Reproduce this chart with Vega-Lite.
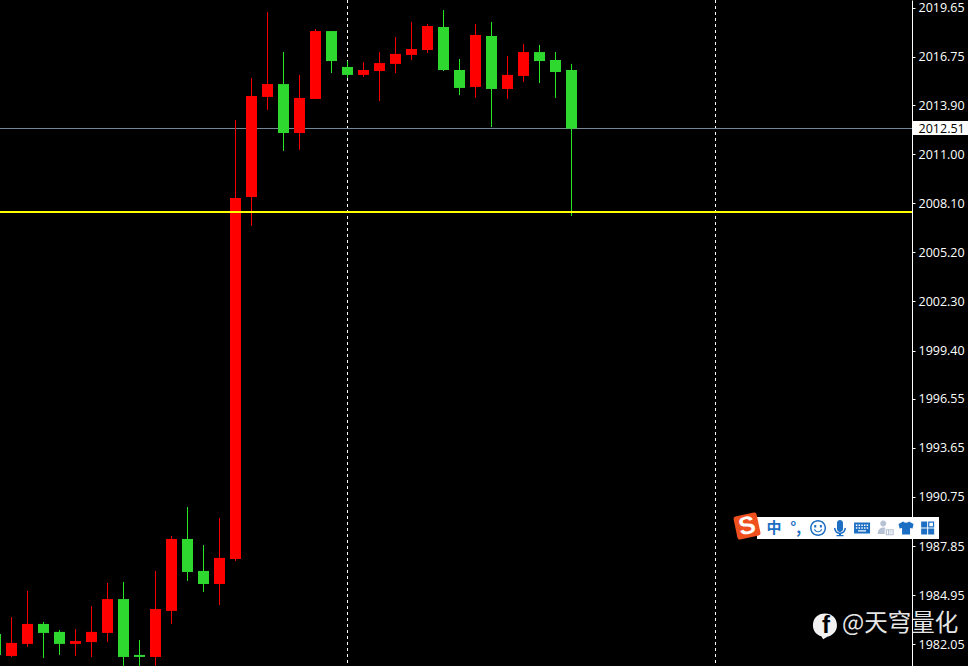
{"$schema":"https://vega.github.io/schema/vega-lite/v6.json","width":912,"height":666,"autosize":{"type":"none"},"padding":{"left":0,"top":0,"right":56,"bottom":0},"background":"#000000","view":{"stroke":null,"fill":"#000000"},"config":{"axis":{"grid":false}},
"resolve":{"scale":{"color":"independent"}},
"datasets":{"candles":[
{"t":-1,"open":1982.66,"high":1982.89,"low":1981.24,"close":1981.42,"dir":"down"},
{"t":0,"open":1981.36,"high":1983.66,"low":1981.30,"close":1982.13,"dir":"up"},
{"t":1,"open":1982.07,"high":1985.20,"low":1981.89,"close":1983.25,"dir":"up"},
{"t":2,"open":1983.25,"high":1983.37,"low":1981.24,"close":1982.72,"dir":"down"},
{"t":3,"open":1982.78,"high":1982.89,"low":1981.42,"close":1982.07,"dir":"down"},
{"t":4,"open":1982.07,"high":1982.95,"low":1981.36,"close":1982.24,"dir":"up"},
{"t":5,"open":1982.18,"high":1984.31,"low":1981.30,"close":1982.78,"dir":"up"},
{"t":6,"open":1982.72,"high":1985.67,"low":1982.18,"close":1984.72,"dir":"up"},
{"t":7,"open":1984.72,"high":1985.73,"low":1980.77,"close":1981.30,"dir":"down"},
{"t":8,"open":1981.42,"high":1982.30,"low":1980.77,"close":1981.30,"dir":"down"},
{"t":9,"open":1981.30,"high":1986.38,"low":1980.77,"close":1984.13,"dir":"up"},
{"t":10,"open":1984.02,"high":1988.45,"low":1983.25,"close":1988.27,"dir":"up"},
{"t":11,"open":1988.27,"high":1990.16,"low":1985.79,"close":1986.32,"dir":"down"},
{"t":12,"open":1986.38,"high":1987.91,"low":1985.14,"close":1985.61,"dir":"down"},
{"t":13,"open":1985.61,"high":1989.51,"low":1984.37,"close":1987.15,"dir":"up"},
{"t":14,"open":1987.09,"high":2013.02,"low":1986.97,"close":2008.41,"dir":"up"},
{"t":15,"open":2008.47,"high":2015.50,"low":2006.76,"close":2014.44,"dir":"up"},
{"t":16,"open":2014.38,"high":2019.40,"low":2013.61,"close":2015.14,"dir":"up"},
{"t":17,"open":2015.14,"high":2017.03,"low":2011.19,"close":2012.25,"dir":"down"},
{"t":18,"open":2012.25,"high":2015.68,"low":2011.25,"close":2014.32,"dir":"up"},
{"t":19,"open":2014.26,"high":2018.39,"low":2014.26,"close":2018.27,"dir":"up"},
{"t":20,"open":2018.27,"high":2018.27,"low":2015.79,"close":2016.50,"dir":"down"},
{"t":21,"open":2016.15,"high":2016.50,"low":2015.50,"close":2015.68,"dir":"down"},
{"t":22,"open":2015.68,"high":2016.44,"low":2015.56,"close":2015.97,"dir":"up"},
{"t":23,"open":2015.91,"high":2017.03,"low":2014.14,"close":2016.38,"dir":"up"},
{"t":24,"open":2016.33,"high":2017.92,"low":2015.79,"close":2016.92,"dir":"up"},
{"t":25,"open":2016.86,"high":2018.81,"low":2016.56,"close":2017.21,"dir":"up"},
{"t":26,"open":2017.15,"high":2018.69,"low":2016.98,"close":2018.57,"dir":"up"},
{"t":27,"open":2018.51,"high":2019.51,"low":2015.91,"close":2015.97,"dir":"down"},
{"t":28,"open":2015.97,"high":2016.62,"low":2014.49,"close":2014.91,"dir":"down"},
{"t":29,"open":2014.97,"high":2018.69,"low":2014.32,"close":2018.04,"dir":"up"},
{"t":30,"open":2017.98,"high":2018.81,"low":2012.60,"close":2014.85,"dir":"down"},
{"t":31,"open":2014.85,"high":2016.80,"low":2014.26,"close":2015.68,"dir":"up"},
{"t":32,"open":2015.62,"high":2017.51,"low":2015.26,"close":2017.03,"dir":"up"},
{"t":33,"open":2017.03,"high":2017.45,"low":2015.20,"close":2016.50,"dir":"down"},
{"t":34,"open":2016.56,"high":2017.03,"low":2014.32,"close":2015.85,"dir":"down"},
{"t":35,"open":2015.97,"high":2016.33,"low":2007.35,"close":2012.51,"dir":"down"}
],
"icons":[
{"t":50.41,"price":1988.92,"icon":"smile"},
{"t":51.78,"price":1988.92,"icon":"mic"},
{"t":53.16,"price":1988.92,"icon":"keyboard"},
{"t":54.64,"price":1988.92,"icon":"person"},
{"t":55.91,"price":1988.92,"icon":"shirt"},
{"t":57.26,"price":1988.92,"icon":"grid"}
]},
"layer":[
{"data":{"values":[{"t":21},{"t":44}]},"mark":{"type":"rule","color":"#ffffff","strokeWidth":1,"strokeDash":[3,3]},"encoding":{"x":{"field":"t","type":"quantitative","axis":null,"scale":{"domain":[-0.71875,56.28125],"nice":false,"zero":false,"padding":0}}}},
{"data":{"values":[{"price":2012.515}]},"mark":{"type":"rule","color":"#778899","strokeWidth":1},"encoding":{"y":{"field":"price","type":"quantitative","scale":{"domain":[1980.766,2020.105],"nice":false,"zero":false},"axis":{"orient":"right","title":null,"values":[2019.65,2016.75,2013.90,2011.00,2008.10,2005.20,2002.30,1999.40,1996.55,1993.65,1990.75,1987.85,1984.95,1982.05],"format":".2f","domainColor":"#ffffff","tickColor":"#ffffff","tickSize":3,"labelColor":"#ffffff","labelFont":"Open Sans","labelFontSize":12.5,"labelPadding":3,"labelFlush":false,"labelOverlap":false}}}},
{"data":{"name":"candles"},"mark":{"type":"rule","strokeWidth":1},"encoding":{"x":{"field":"t","type":"quantitative","axis":null,"scale":{"domain":[-0.71875,56.28125],"nice":false,"zero":false,"padding":0}},"y":{"field":"high","type":"quantitative","title":null,"scale":{"domain":[1980.766,2020.105],"nice":false,"zero":false}},"y2":{"field":"low"},"color":{"field":"dir","type":"nominal","legend":null,"scale":{"domain":["up","down"],"range":["#f00000","#22e622"]}}}},
{"data":{"name":"candles"},"mark":{"type":"bar","width":11},"encoding":{"x":{"field":"t","type":"quantitative","axis":null,"scale":{"domain":[-0.71875,56.28125],"nice":false,"zero":false,"padding":0}},"y":{"field":"open","type":"quantitative","title":null,"scale":{"domain":[1980.766,2020.105],"nice":false,"zero":false}},"y2":{"field":"close"},"color":{"field":"dir","type":"nominal","legend":null,"scale":{"domain":["up","down"],"range":["#ff0000","#2fd82f"]}}}},
{"data":{"values":[{"price":2007.583}]},"mark":{"type":"rule","color":"#ffff00","strokeWidth":2},"encoding":{"y":{"field":"price","type":"quantitative","scale":{"domain":[1980.766,2020.105],"nice":false,"zero":false}}}},
{"data":{"values":[{"t":56.34,"t2":59.78,"p":2012.958,"p2":2012.131}]},"mark":{"type":"rect","color":"#ffffff"},"encoding":{"x":{"field":"t","type":"quantitative","axis":null,"scale":{"domain":[-0.71875,56.28125],"nice":false,"zero":false,"padding":0}},"x2":{"field":"t2"},"y":{"field":"p","type":"quantitative","scale":{"domain":[1980.766,2020.105],"nice":false,"zero":false}},"y2":{"field":"p2"}}},
{"data":{"values":[{"t":56.69,"price":2012.51,"label":"2012.51"}]},"mark":{"type":"text","color":"#000000","align":"left","baseline":"middle","font":"Open Sans","fontSize":12.5},"encoding":{"x":{"field":"t","type":"quantitative","axis":null,"scale":{"domain":[-0.71875,56.28125],"nice":false,"zero":false,"padding":0}},"y":{"field":"price","type":"quantitative","scale":{"domain":[1980.766,2020.105],"nice":false,"zero":false}},"text":{"field":"label"}}},
{"data":{"values":[{"t":46.594,"t2":57.97,"p":1989.567,"p2":1988.268}]},"mark":{"type":"rect","color":"#ffffff"},"encoding":{"x":{"field":"t","type":"quantitative","axis":null,"scale":{"domain":[-0.71875,56.28125],"nice":false,"zero":false,"padding":0}},"x2":{"field":"t2"},"y":{"field":"p","type":"quantitative","scale":{"domain":[1980.766,2020.105],"nice":false,"zero":false}},"y2":{"field":"p2"}}},
{"data":{"values":[{"t":45.97,"price":1989.036}]},"mark":{"type":"point","shape":"M-.8,-1H.8Q1,-1 1,-.8V.8Q1,1 .8,1H-.8Q-1,1 -1,.8V-.8Q-1,-1 -.8,-1Z","filled":true,"opacity":1,"color":"#f0501e","size":552,"angle":-12},"encoding":{"x":{"field":"t","type":"quantitative","axis":null,"scale":{"domain":[-0.71875,56.28125],"nice":false,"zero":false,"padding":0}},"y":{"field":"price","type":"quantitative","scale":{"domain":[1980.766,2020.105],"nice":false,"zero":false}}}},
{"data":{"values":[{"t":45.97,"price":1989.036,"label":"S"}]},"mark":{"type":"text","color":"#ffffff","font":"Liberation Sans","fontWeight":"bold","fontSize":25,"angle":348,"align":"center","baseline":"middle"},"encoding":{"x":{"field":"t","type":"quantitative","axis":null,"scale":{"domain":[-0.71875,56.28125],"nice":false,"zero":false,"padding":0}},"y":{"field":"price","type":"quantitative","scale":{"domain":[1980.766,2020.105],"nice":false,"zero":false}},"text":{"field":"label"}}},
{"data":{"values":[{"t":47.66,"price":1988.92,"label":"中"},{"t":49.01,"price":1988.92,"label":"°,"}]},"mark":{"type":"text","color":"#1d6fc4","font":"Noto Sans CJK SC","fontWeight":"bold","fontSize":15,"align":"center","baseline":"middle"},"encoding":{"x":{"field":"t","type":"quantitative","axis":null,"scale":{"domain":[-0.71875,56.28125],"nice":false,"zero":false,"padding":0}},"y":{"field":"price","type":"quantitative","scale":{"domain":[1980.766,2020.105],"nice":false,"zero":false}},"text":{"field":"label"}}},
{"data":{"name":"icons"},"mark":{"type":"point","filled":true,"opacity":1,"size":400},"encoding":{"x":{"field":"t","type":"quantitative","axis":null,"scale":{"domain":[-0.71875,56.28125],"nice":false,"zero":false,"padding":0}},"y":{"field":"price","type":"quantitative","scale":{"domain":[1980.766,2020.105],"nice":false,"zero":false}},
"shape":{"field":"icon","type":"nominal","legend":null,"scale":{"domain":["smile","mic","keyboard","person","shirt","grid"],"range":[
"M-.8,0A.8,.8 0 1 1 .8,0A.8,.8 0 1 1 -.8,0ZM-.65,0A.65,.65 0 1 0 .65,0A.65,.65 0 1 0 -.65,0ZM-.38,-.3H-.18V-.05H-.38ZM.18,-.3H.38V-.05H.18ZM-.42,.12H-.3A.32,.32 0 0 0 .3,.12H.42A.44,.44 0 0 1 -.42,.12Z",
"M-.3,-.5A.3,.3 0 0 1 .3,-.5V.1A.3,.3 0 0 1 -.3,.1ZM-.6,0H-.45A.45,.45 0 0 0 .45,0H.6A.6,.6 0 0 1 .1,.6V.7H.35V.83H-.35V.7H-.1V.6A.6,.6 0 0 1 -.6,0Z",
"M-.8,-.55H.8V.55H-.8ZM-.62,-.35V-.2H-.47V-.35ZM-.35,-.35V-.2H-.2V-.35ZM-.08,-.35V-.2H.07V-.35ZM.19,-.35V-.2H.34V-.35ZM.46,-.35V-.2H.61V-.35ZM-.62,-.08V.07H-.47V-.08ZM-.35,-.08V.07H-.2V-.08ZM-.08,-.08V.07H.07V-.08ZM.19,-.08V.07H.34V-.08ZM.46,-.08V.07H.61V-.08ZM-.4,.22V.36H.4V.22Z",
"M-.55,-.45A.3,.3 0 0 1 .05,-.45A.3,.3 0 0 1 -.55,-.45ZM-.8,.6C-.8,.15 -.5,-.05 -.25,-.05C-.1,-.05 0,0 .05,.05H-.1V.6ZM0,.12H.8V.72H0ZM.12,.22V.62H.22V.22ZM.36,.22V.62H.68V.22ZM.45,.28H.59V.38H.45ZM.45,.46H.59V.56H.45Z",
"M-.3,-.65Q0,-.4 .3,-.65L.75,-.4L.65,.05L.4,0V.65H-.4V0L-.65,.05L-.75,-.4Z",
"M-.65,-.65H-.05V-.05H-.65ZM.05,-.65H.65V-.05H.05ZM.17,-.53V-.17H.53V-.53ZM-.65,.05H-.05V.65H-.65ZM.05,.05H.65V.65H.05Z"
]}},
"color":{"field":"icon","type":"nominal","legend":null,"scale":{"domain":["smile","mic","keyboard","person","shirt","grid"],"range":["#1d6fc4","#1d6fc4","#1d6fc4","#b6c1d4","#1d6fc4","#1d6fc4"]}}}},
{"data":{"values":[{"t":50.84,"price":1983.16}]},"mark":{"type":"point","filled":true,"opacity":1,"color":"#f2f2f2","size":576,"shape":"M-1,0C-1,-.6 -.6,-1 0,-1C.6,-1 1,-.6 1,0C1,.5 .6,.85 .2,.95L-.15,1.15L-.3,.9C-.7,.8 -1,.45 -1,0Z"},"encoding":{"x":{"field":"t","type":"quantitative","axis":null,"scale":{"domain":[-0.71875,56.28125],"nice":false,"zero":false,"padding":0}},"y":{"field":"price","type":"quantitative","scale":{"domain":[1980.766,2020.105],"nice":false,"zero":false}}}},
{"data":{"values":[{"t":50.9,"price":1983.1,"label":"f"}]},"mark":{"type":"text","color":"#000000","font":"Liberation Sans","fontWeight":"bold","fontSize":24,"align":"center","baseline":"middle"},"encoding":{"x":{"field":"t","type":"quantitative","axis":null,"scale":{"domain":[-0.71875,56.28125],"nice":false,"zero":false,"padding":0}},"y":{"field":"price","type":"quantitative","scale":{"domain":[1980.766,2020.105],"nice":false,"zero":false}},"text":{"field":"label"}}},
{"data":{"values":[{"t":51.9,"price":1983.25,"label":"@天穹量化"}]},"mark":{"type":"text","color":"#e6e6e6","font":"Noto Sans CJK SC","fontSize":23.5,"align":"left","baseline":"middle"},"encoding":{"x":{"field":"t","type":"quantitative","axis":null,"scale":{"domain":[-0.71875,56.28125],"nice":false,"zero":false,"padding":0}},"y":{"field":"price","type":"quantitative","scale":{"domain":[1980.766,2020.105],"nice":false,"zero":false}},"text":{"field":"label"}}}
]}
